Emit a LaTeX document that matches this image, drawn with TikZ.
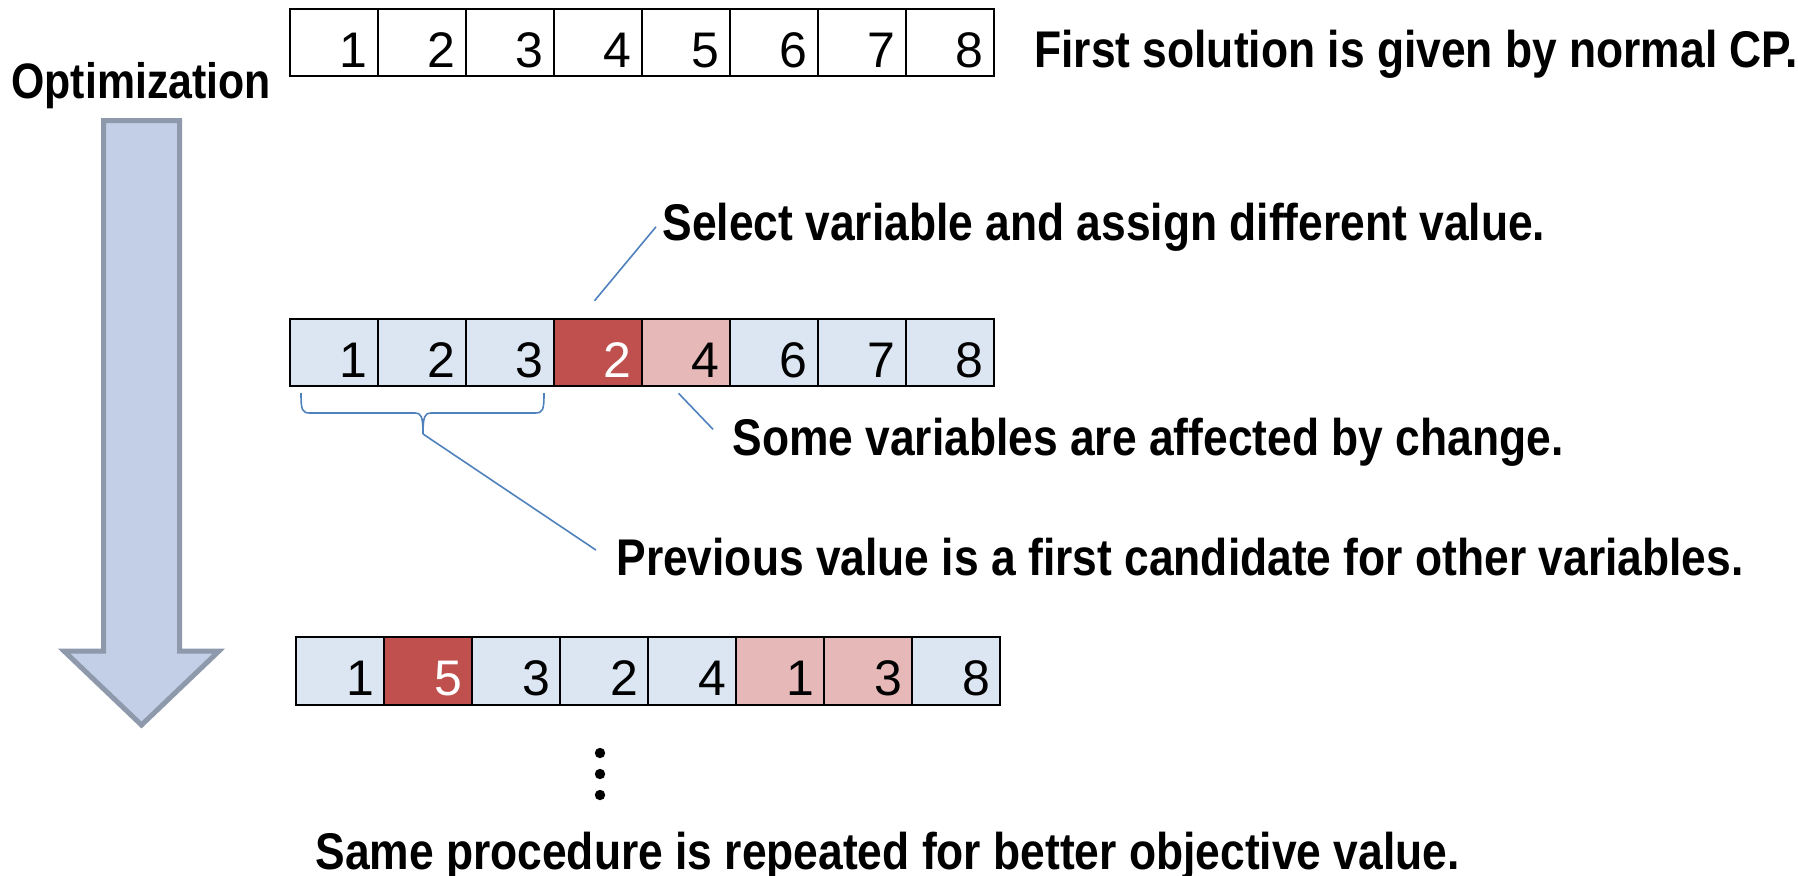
\documentclass[tikz,border=0pt]{standalone}
\usepackage{fontspec}
\setmainfont{Liberation Sans}[FakeStretch=0.86]
\newfontfamily\digitfont{Liberation Sans}
\usetikzlibrary{calc}
\definecolor{cellblue}{HTML}{DCE6F2}
\definecolor{cellred}{HTML}{C0504D}
\definecolor{cellpink}{HTML}{E6B9B8}
\definecolor{arrowfill}{HTML}{C3CFE6}
\definecolor{arrowline}{HTML}{8E99AC}
\definecolor{connblue}{HTML}{4F81BD}
\begin{document}
\begin{tikzpicture}[x=0.5pt,y=-0.5pt,
  cell/.style={draw=black,line width=1pt,minimum width=44pt,minimum height=33.75pt,
    inner xsep=5pt,inner ysep=0pt,text width=34pt,align=right,
    text height=29.4pt,text depth=4.35pt,font=\digitfont\fontsize{25}{30}\selectfont},
  lbl/.style={anchor=base west,inner sep=3pt,font=\bfseries\fontsize{25.8}{30}\selectfont},
  conn/.style={draw=connblue,line width=0.8pt},
  bigarrow/.style={fill=arrowfill,draw=arrowline,line width=2.5pt,line join=miter}]
\useasboundingbox (0,0) rectangle (1798,875);

% optimization arrow
\draw[bigarrow] (103.5,120.5) -- (179.5,120.5) -- (179.5,651) -- (219,651)
  -- (141.5,725) -- (64,651) -- (103.5,651) -- cycle;
\node[lbl,font=\bfseries\fontsize{24.9}{30}\selectfont] (opt) at (5,98) {Optimization};

% row 1
\foreach \v [count=\i] in {1,...,8}
  \node[cell,fill=white] (r1c\i) at (245.5+88*\i,42.25) {\v};
\node[lbl] (first) at (1028,67) {First solution is given by normal CP.};

% row 2
\foreach \v/\f/\t [count=\i] in {1/cellblue/black,2/cellblue/black,3/cellblue/black,
    2/cellred/white,4/cellpink/black,6/cellblue/black,7/cellblue/black,8/cellblue/black}
  \node[cell,fill=\f,text=\t] (r2c\i) at (245.5+88*\i,352.5) {\v};

% row 3
\foreach \v/\f/\t [count=\i] in {1/cellblue/black,5/cellred/white,3/cellblue/black,
    2/cellblue/black,4/cellblue/black,1/cellpink/black,3/cellpink/black,8/cellblue/black}
  \node[cell,fill=\f,text=\t] (r3c\i) at (252+88*\i,670.75) {\v};

% labels
\node[lbl] (sel) at (656,240) {Select variable and assign different value.};
\node[lbl] (some) at (726,455) {Some variables are affected by change.};
\node[lbl] (prev) at (610,575) {Previous value is a first candidate for other variables.};
\node[lbl] (same) at (309,869) {Same procedure is repeated for better objective value.};

% connectors
\draw[conn] ($(r2c4.north)+(-3,-17)$) -- (sel.west);
\draw[conn] ($(r2c5.south)+(-7,6)$) -- ($(some.west)+(-13,-12.5)$);

% brace
\coordinate (bt) at (423,434);
\draw[conn] (301,393) .. controls (301,410) and (302,413) .. (310,413) -- (415,413)
  .. controls (421,413) and (423,416) .. (bt)
  .. controls (423,416) and (425,413) .. (431,413) -- (535,413)
  .. controls (543,413) and (544,410) .. (544,393);
\draw[conn] (bt) -- ($(prev.west)+(-14,-6.5)$);

% ellipsis dots
\foreach \yy in {753,774,795}
  \fill (600,\yy) circle[radius=2.6pt];
\end{tikzpicture}
\end{document}
